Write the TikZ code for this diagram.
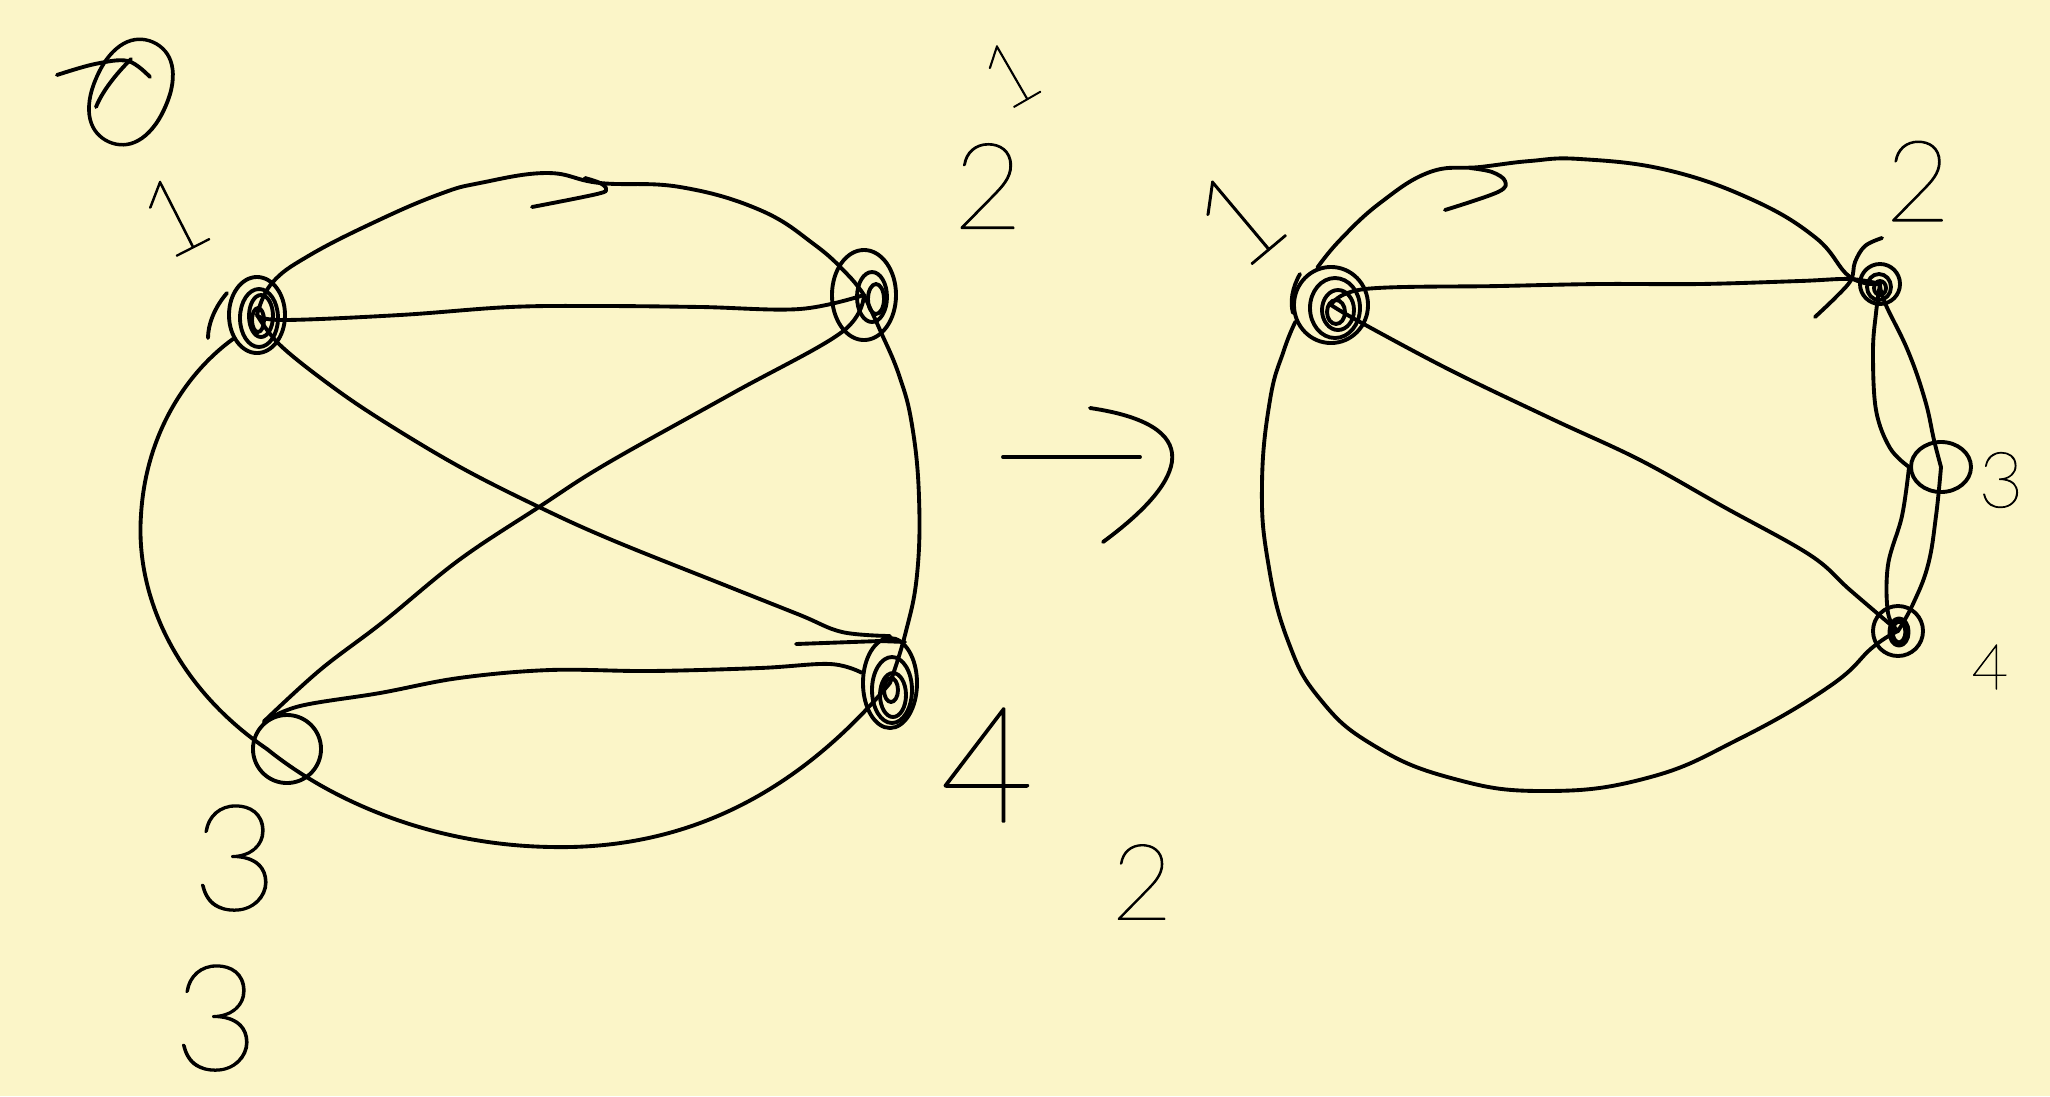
\documentclass[tikz,border=0pt]{standalone}
\usepackage{fontspec}
\newfontfamily\handf{Lato Hairline}[FakeBold=1.2]
\usetikzlibrary{shapes.geometric}
\definecolor{paper}{HTML}{FBF5C8}
\begin{document}
\begin{tikzpicture}[x=0.01cm,y=-0.01cm, line cap=round, line join=round,
  pen/.style={line width=1.1pt, black},
  vtx/.style={draw, ellipse, inner sep=0pt, line width=1.1pt},
  lbl/.style={font=\handf\fontsize{#1}{#1}\selectfont, inner sep=0pt}]
\fill[paper] (0,0) rectangle (2050,1096);
\useasboundingbox (0,0) rectangle (2050,1096);

% ---------- left graph vertices ----------
\node[vtx, minimum width=0.56cm, minimum height=0.76cm] (L1) at (257,315) {};
\node[vtx, minimum width=0.64cm, minimum height=0.90cm] (L2) at (864,295) {};
\node[vtx, minimum width=0.68cm, minimum height=0.68cm] (L3) at (287,749) {};
\node[vtx, minimum width=0.54cm, minimum height=0.90cm] (L4) at (890,683) {};
% inner scribbles
\draw[pen] (259,318) ellipse [x radius=19, y radius=29];
\draw[pen] (261,316) ellipse [x radius=12, y radius=21];
\draw[pen] (258,320) ellipse [x radius=6, y radius=12];
\draw[pen] (227,293) .. controls (214,308) and (208,325) .. (208,338);
\draw[pen] (872,297) ellipse [x radius=15, y radius=25];
\draw[pen] (876,299) ellipse [x radius=8, y radius=15];
\draw[pen] (892,690) ellipse [x radius=20, y radius=33];
\draw[pen] (893,695) ellipse [x radius=13, y radius=22];
\draw[pen] (891,690) ellipse [x radius=7, y radius=12];

% ---------- left graph outer cycle ----------
\draw[pen] plot[smooth, tension=0.7] coordinates {(L1.center) (272,283) (310,255) (379,220) (440,194) (480,183) (547,173) (600,183) (680,187) (760,210) (815,245) (848,275) (L2.center)};
\draw[pen] plot[smooth, tension=0.6] coordinates {(585,178) (600,183) (606,189) (597,194) (532,207)};
\draw[pen] plot[smooth, tension=0.7] coordinates {(L2.center) (880,330) (899,375) (912,425) (919,497) (917,575) (905,635) (L4.center)};
\draw[pen] (L4.center) .. controls (800,790) and (690,850) .. (551,847)
  .. controls (430,845) and (330,800) .. ([xshift=-0.2cm]L3.center);
\draw[pen] ([xshift=-0.2cm]L3.center) .. controls (180,690) and (135,600) .. (141,515)
  .. controls (146,430) and (190,370) .. (L1.225);

% ---------- left graph chords ----------
\draw[pen] plot[smooth, tension=0.6] coordinates {(L1.center) (283,320) (400,315) (510,307) (600,306) (701,307) (800,309) (L2.center)};
\draw[pen] plot[smooth, tension=0.6] coordinates {(L1.center) (280,345) (330,385) (383,421) (460,467) (539,507) (612,540) (727,586) (800,615) (842,632) (L4.north)};
\draw[pen] plot[smooth, tension=0.6] coordinates {(L2.center) (842,332) (733,393) (606,464) (539,507) (459,560) (383,622) (320,670) (L3.130)};
\draw[pen] plot[smooth, tension=0.6] coordinates {(L3.130) (300,706) (380,693) (459,678) (550,670) (650,671) (760,668) (830,664) (L4.160)};
\draw[pen] (796,644) -- (880,641) -- (905,642);

% ---------- arrow ----------
\draw[pen] (1003,457) -- (1140,457);
\draw[pen] (1090,408) .. controls (1205,425) and (1190,478) .. (1103,542);

% ---------- right graph vertices ----------
\node[vtx, minimum width=0.74cm, minimum height=0.76cm] (R1) at (1331,305) {};
\node[vtx, minimum width=0.40cm, minimum height=0.40cm] (R2) at (1880,284) {};
\node[vtx, minimum width=0.60cm, minimum height=0.50cm] (R3) at (1941,467) {};
\node[vtx, minimum width=0.50cm, minimum height=0.50cm] (R4) at (1898,631) {};
\draw[pen] (1335,308) ellipse [x radius=25, y radius=30];
\draw[pen] (1338,310) ellipse [x radius=16, y radius=20];
\draw[pen] (1336,312) ellipse [x radius=9, y radius=12];
\draw[pen] (1300,274) .. controls (1292,288) and (1290,302) .. (1293,313);
\draw[pen] (1879,287) ellipse [x radius=12, y radius=13];
\draw[pen] (1880,288) ellipse [x radius=6, y radius=7];
\draw[pen, line width=2pt] (1899,632) ellipse [x radius=8, y radius=12];

% ---------- right graph cycle ----------
\draw[pen] plot[smooth, tension=0.7] coordinates {(R1.110) (1340,240) (1380,203) (1430,172) (1480,167) (1530,161) (1580,159) (1667,170) (1753,200) (1816,238) (1850,277) (R2.center)};
\draw[pen] plot[smooth, tension=0.6] coordinates {(1470,168) (1492,172) (1505,181) (1498,192) (1445,210)};
\draw[pen] plot[smooth, tension=0.7] coordinates {(R2.center) (1885,303) (1908,351) (1925,400) (1934,440) (R3.center)};
\draw[pen] plot[smooth, tension=0.7] coordinates {(R3.center) (1936,516) (1928,565) (1913,604) (R4.center)};
\draw[pen] plot[smooth, tension=0.75] coordinates {(R4.center) (1873,647) (1830,686) (1739,739) (1647,778) (1543,791) (1451,778) (1373,745) (1320,699) (1288,641) (1268,562) (1262,484) (1270,400) (1284,350) (R1.205)};
\draw[pen] plot[smooth, tension=0.6] coordinates {(R2.center) (1876,313) (1873,351) (1876,410) (1890,448) (R3.west)};
\draw[pen] plot[smooth, tension=0.6] coordinates {(R3.west) (1902,516) (1888,565) (1888,613) (R4.center)};
\draw[pen] plot[smooth, tension=0.6] coordinates {(R1.center) (1365,289) (1500,286) (1600,284) (1700,284) (1800,281) (1850,279) (R2.center)};
\draw[pen] plot[smooth, tension=0.6] coordinates {(R1.center) (1360,322) (1450,370) (1552,419) (1640,460) (1724,507) (1810,555) (1850,590) (R4.center)};
\draw[pen] plot[smooth, tension=0.6] coordinates {(1882,238) (1865,246) (1855,262) (1851,280) (1835,298) (1815,317)};

% ---------- labels ----------
\node[lbl=44, rotate=-24] (t0) at (131,92) {0};
\draw[pen] plot[smooth, tension=0.6] coordinates {(57,75) (95,64) (128,61) (150,77)};
\draw[pen] (131,59) .. controls (115,75) and (102,92) .. (96,107);
\node[lbl=30, rotate=27] (t1a) at (174,216) {1};
\node[lbl=25, rotate=30] (t1b) at (1010,74) {1};
\node[lbl=34] (t2a) at (988,186) {2};
\node[lbl=42] (t3a) at (235,858) {3};
\node[lbl=42] (t3b) at (216,1018) {3};
\node[lbl=46] (t4a) at (987,765) {4};
\node[lbl=30] (t2b) at (1142,882) {2};
\node[lbl=36, rotate=40] (t1c) at (1238,218) {1};
\node[lbl=32] (t2c) at (1918,181) {2};
\node[lbl=22] (t3c) at (2001,480) {3};
\node[lbl=18] (t4c) at (1990,667) {4};
\end{tikzpicture}
\end{document}
